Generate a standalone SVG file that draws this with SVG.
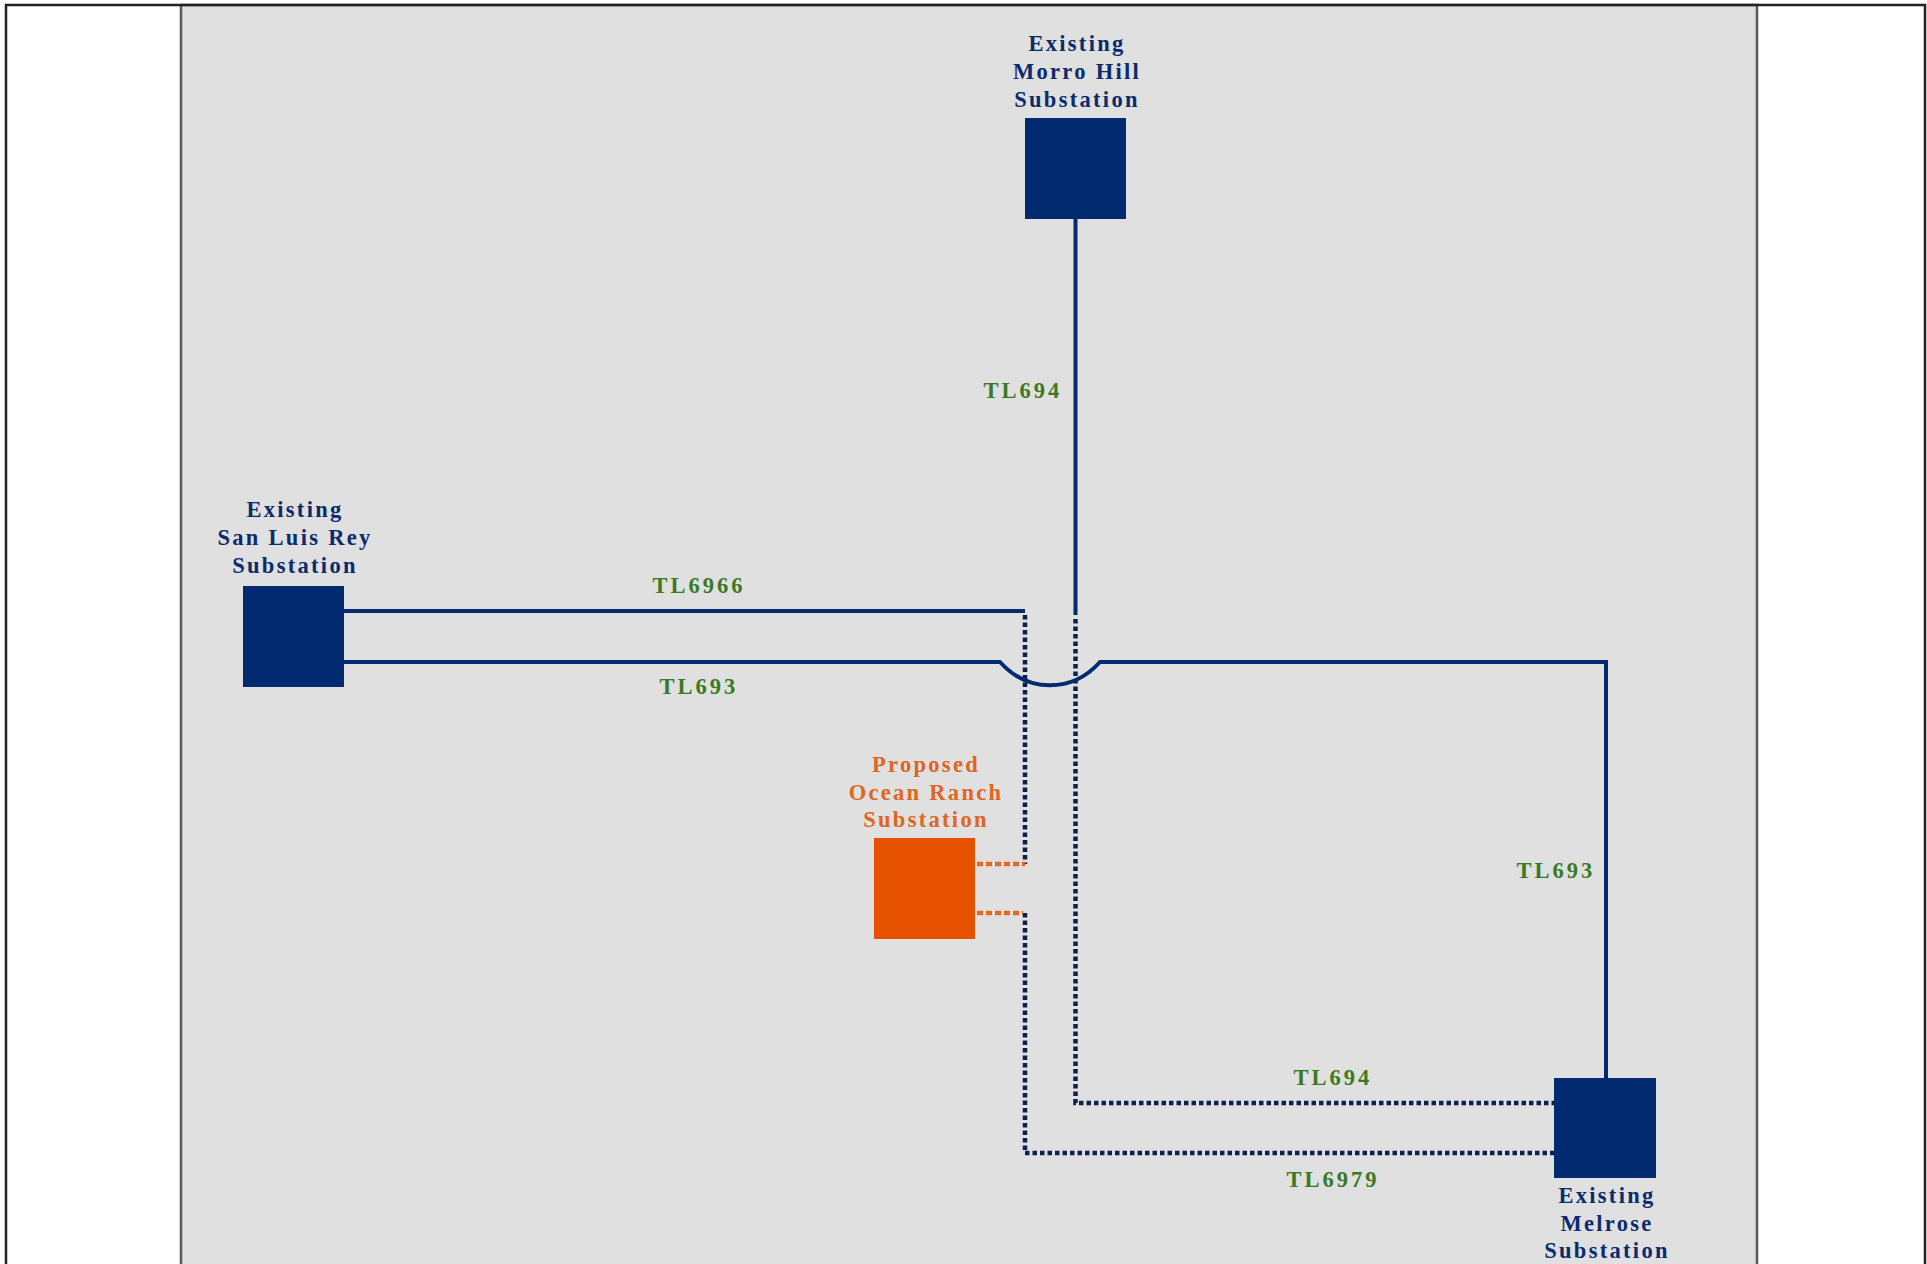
<svg xmlns="http://www.w3.org/2000/svg" width="1927" height="1264" viewBox="0 0 1927 1264">
<style>
.lbl{font-family:"Liberation Serif","Times New Roman",serif;font-weight:bold;font-size:22.5px;letter-spacing:2.3px;text-anchor:middle}
.blue{fill:#0b2b6e}
.orange{fill:#e0651f}
.green{fill:#3a7a26;letter-spacing:3px}
.solid{fill:none;stroke:#012a70;stroke-width:4}
.dot{fill:none;stroke:#0d1f4a;stroke-width:4.5;stroke-dasharray:4.5 3}
.odot{fill:none;stroke:#e56a20;stroke-width:4.5;stroke-dasharray:6 3}
</style>
<rect x="0" y="0" width="1927" height="1264" fill="#ffffff"/>
<rect x="181" y="5" width="1576" height="1270" fill="#e0e0e0" stroke="#5a5a5a" stroke-width="2.5"/>
<path d="M6,1270 V5 H1925 V1270" fill="none" stroke="#222222" stroke-width="2.5"/>

<g id="connectors">
  <path class="solid" d="M1075.5,219 V615"/>
  <path class="dot" d="M1075.5,619 V1103 H1554"/>
  <path class="solid" d="M344,611 H1025"/>
  <path class="dot" d="M1025,615 V864"/>
  <path class="dot" d="M1025,913 V1153 H1554"/>
  <path class="solid" d="M344,662 H1000 C1028,693 1072,693 1100,662 H1606 V1078"/>
  <path class="odot" d="M977,864 H1025"/>
  <path class="odot" d="M977,913 H1023"/>
  <text class="lbl green" x="1023" y="398">TL694</text>
  <text class="lbl green" x="699" y="593">TL6966</text>
  <text class="lbl green" x="699" y="694">TL693</text>
  <text class="lbl green" x="1556" y="878">TL693</text>
  <text class="lbl green" x="1333" y="1085">TL694</text>
  <text class="lbl green" x="1333" y="1187">TL6979</text>
</g>

<g id="morro-hill">
  <rect x="1025" y="118" width="101" height="101" fill="#012a70"/>
  <text class="lbl blue" x="1077" y="51">Existing</text>
  <text class="lbl blue" x="1077" y="79">Morro Hill</text>
  <text class="lbl blue" x="1077" y="107">Substation</text>
</g>

<g id="san-luis-rey">
  <rect x="243" y="586" width="101" height="101" fill="#012a70"/>
  <text class="lbl blue" x="295" y="517">Existing</text>
  <text class="lbl blue" x="295" y="545">San Luis Rey</text>
  <text class="lbl blue" x="295" y="573">Substation</text>
</g>

<g id="ocean-ranch">
  <rect x="874" y="838" width="101" height="101" fill="#e65100"/>
  <text class="lbl orange" x="926" y="772">Proposed</text>
  <text class="lbl orange" x="926" y="800">Ocean Ranch</text>
  <text class="lbl orange" x="926" y="827">Substation</text>
</g>

<g id="melrose">
  <rect x="1554" y="1078" width="102" height="100" fill="#012a70"/>
  <text class="lbl blue" x="1607" y="1203">Existing</text>
  <text class="lbl blue" x="1607" y="1231">Melrose</text>
  <text class="lbl blue" x="1607" y="1258">Substation</text>
</g>
</svg>
